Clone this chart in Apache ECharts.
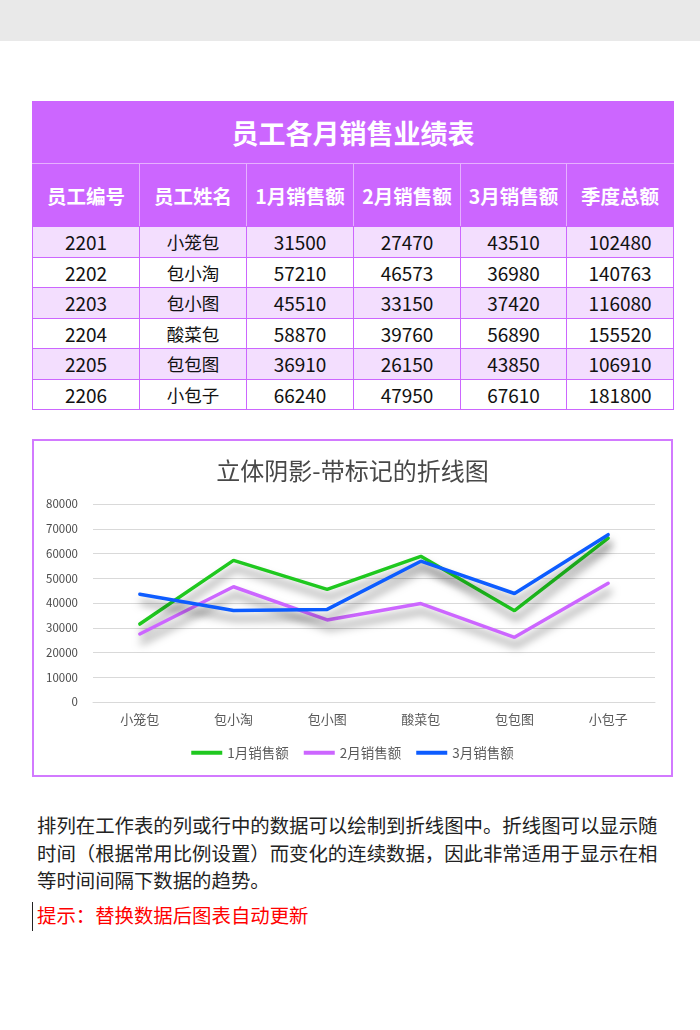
<!DOCTYPE html>
<html>
<head>
<meta charset="utf-8">
<script src="https://cdn.jsdelivr.net/npm/echarts@6/dist/echarts.min.js"></script>
<style>
  body { margin: 0; background: #fff; font-family: "Noto Sans CJK SC", "Noto Sans", sans-serif; }
  .page { position: relative; width: 700px; height: 1030px; overflow: hidden; }
  .topband { position: absolute; left: 0; top: 0; width: 700px; height: 41px; background: #e9e9e9; }
  table.sales { position: absolute; left: 32px; top: 101px; border-collapse: collapse; table-layout: fixed; width: 641px; border: 1px solid #cc66ff; }
  table.sales td { text-align: center; padding: 0; border: 1px solid #cc66ff; }
  table.sales .title td { height: 61px; background: #cc66ff; color: #fff; font-weight: bold; font-size: 27px; border-bottom: 1px solid #e6b0ff; }
  table.sales .head td { height: 62px; background: #cc66ff; color: #fff; font-weight: bold; font-size: 19.5px;
    border-top: 1px solid #e6b0ff; border-left: 1px solid #e6b0ff; border-right: 1px solid #e6b0ff; }
  table.sales .head td:first-child { border-left-color: #cc66ff; }
  table.sales .head td:last-child { border-right-color: #cc66ff; }
  .row td { height: 29.5px; color: #111; font-size: 19px; line-height: 29px; }
  .row td.nm { font-size: 17.5px; }
  .row.odd td { background: #f3defe; }
  .chartbox { position: absolute; left: 32px; top: 439px; width: 637px; height: 334px; border: 2px solid #d27aff; }
  #main { width: 637px; height: 334px; }
  .para { position: absolute; left: 37px; top: 811px; font-size: 19.4px; line-height: 27.5px; color: #222; white-space: nowrap; }
  .tip { position: absolute; left: 32px; top: 902px; height: 29px; line-height: 25px; padding-left: 4px; border-left: 1.5px solid #222; font-size: 19.4px; color: #ff0000; white-space: nowrap; }
</style>
</head>
<body>
<div class="page">
  <div class="topband"></div>
  <table class="sales" id="sales">
    <colgroup>
      <col style="width:107px"><col style="width:107px"><col style="width:107px">
      <col style="width:107px"><col style="width:106px"><col style="width:107px">
    </colgroup>
  </table>
  <div class="chartbox"><div id="main"></div></div>
  <div class="para">排列在工作表的列或行中的数据可以绘制到折线图中。折线图可以显示随<br>时间（根据常用比例设置）而变化的连续数据，因此非常适用于显示在相<br>等时间间隔下数据的趋势。</div>
  <div class="tip">提示：替换数据后图表自动更新</div>
</div>
<script>
// table + chart data
const tableTitle = '员工各月销售业绩表'
const headers = ['员工编号', '员工姓名', '1月销售额', '2月销售额', '3月销售额', '季度总额']
const ids = ['2201', '2202', '2203', '2204', '2205', '2206']
const names = ['小笼包', '包小淘', '包小图', '酸菜包', '包包图', '小包子']
const jan = [31500, 57210, 45510, 58870, 36910, 66240]
const feb = [27470, 46573, 33150, 39760, 26150, 47950]
const mar = [43510, 36980, 37420, 56890, 43850, 67610]
const totals = [102480, 140763, 116080, 155520, 106910, 181800]
const seriesNames = ['1月销售额', '2月销售额', '3月销售额']
const chartTitle = '立体阴影-带标记的折线图'

// build the html table
const tbl = document.getElementById('sales')
let html = '<tr class="title"><td colspan="6">' + tableTitle + '</td></tr>'
html += '<tr class="head">' + headers.map(h => '<td>' + h + '</td>').join('') + '</tr>'
ids.forEach((id, i) => {
  html += '<tr class="row ' + (i % 2 === 0 ? 'odd' : 'even') + '">' +
    '<td>' + id + '</td><td class="nm">' + names[i] + '</td>' +
    '<td>' + jan[i] + '</td><td>' + feb[i] + '</td><td>' + mar[i] + '</td><td>' + totals[i] + '</td></tr>'
})
tbl.insertAdjacentHTML('beforeend', html)

const colors = ['#1fc81f', '#cc66ff', '#0d5cff']
const chart = echarts.init(document.getElementById('main'))

function lineSeries(name, data, color) {
  return {
    name: name,
    type: 'line',
    data: data,
    symbol: 'none',
    smooth: false,
    itemStyle: { color: color },
    lineStyle: {
      color: color,
      width: 3.5,
      cap: 'round',
      shadowColor: 'rgba(0,0,0,0.5)',
      shadowBlur: 8,
      shadowOffsetX: 2,
      shadowOffsetY: 8,
    },
  }
}

const option = {
  animation: false,
  textStyle: { fontFamily: 'Noto Sans CJK SC' },
  title: {
    text: chartTitle,
    left: 'center',
    top: 13,
    textStyle: { fontSize: 24, fontWeight: 'normal', color: '#484848' },
  },
  legend: {
    top: 300,
    left: 'center',
    icon: 'rect',
    itemWidth: 31,
    itemHeight: 4,
    itemGap: 15,
    textStyle: { fontSize: 13.5, color: '#595959' },
    data: seriesNames,
  },
  grid: { left: 59, right: 16, top: 63, bottom: 73 },
  xAxis: {
    type: 'category',
    boundaryGap: true,
    data: names,
    axisLine: { lineStyle: { color: '#d9d9d9', width: 1 } },
    axisTick: { show: false },
    axisLabel: { fontSize: 13, color: '#595959', margin: 11 },
  },
  yAxis: {
    type: 'value',
    min: 0,
    max: 80000,
    interval: 10000,
    axisLine: { show: false },
    axisTick: { show: false },
    axisLabel: { fontSize: 11.5, color: '#4a4a4a', margin: 15, formatter: v => String(v) },
    splitLine: { lineStyle: { color: '#d9d9d9', width: 1 } },
  },
  series: [
    lineSeries(seriesNames[0], jan, colors[0]),
    lineSeries(seriesNames[1], feb, colors[1]),
    lineSeries(seriesNames[2], mar, colors[2]),
  ],
}
option && chart.setOption(option)
</script>
</body>
</html>
